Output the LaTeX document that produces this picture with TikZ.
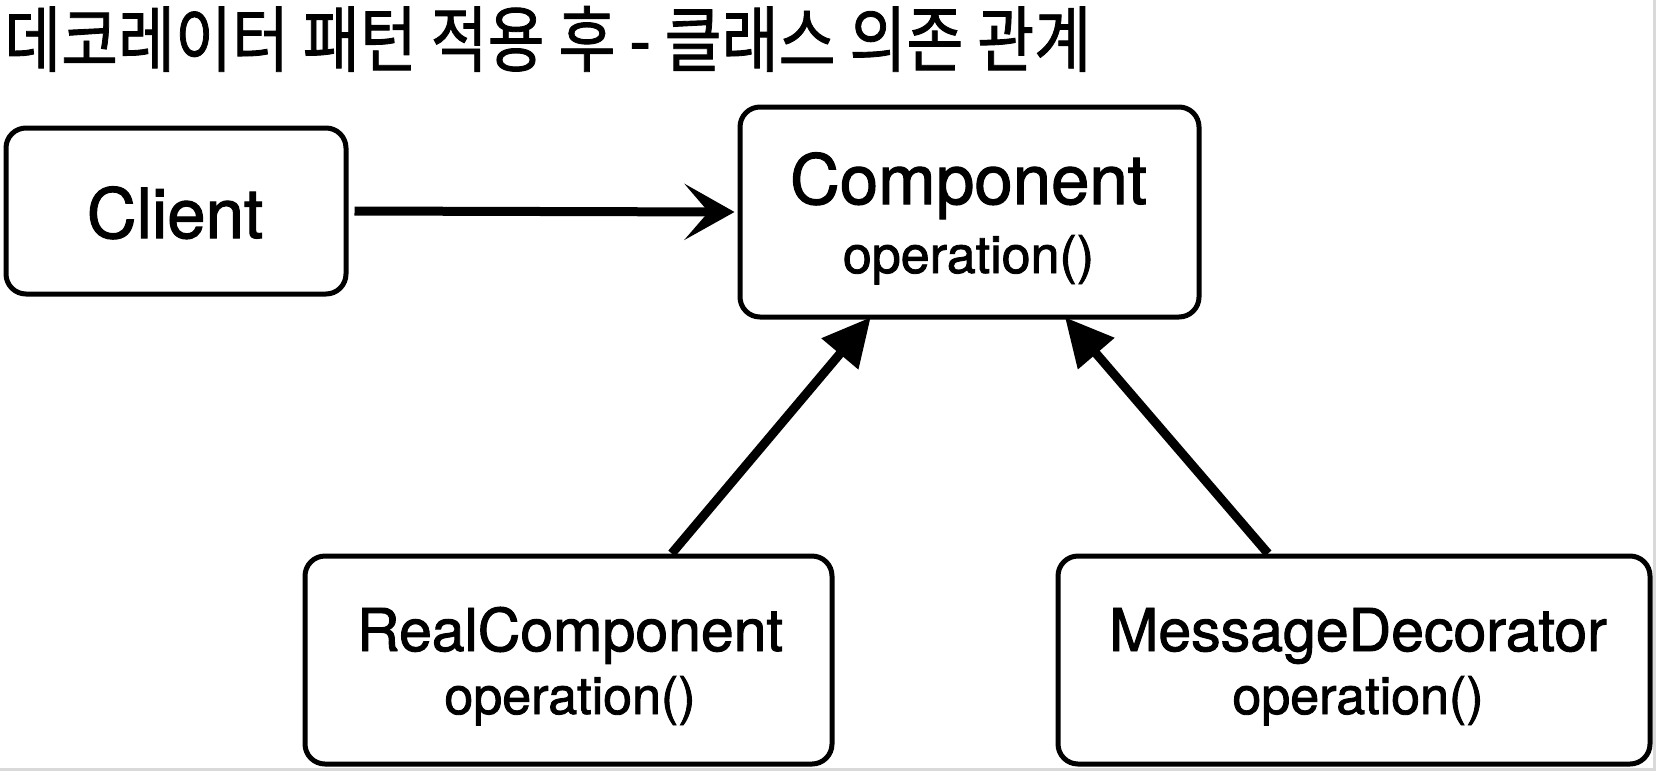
\documentclass[tikz,border=0pt]{standalone}
\usepackage{fontspec}
\setmainfont{TeX Gyre Heros}
\newfontfamily\medfont{TeX Gyre Heros}[FakeBold=1.6]
\newfontfamily\krfont{Noto Sans CJK KR}[FakeBold=1.2]
\usetikzlibrary{arrows.meta,calc}
\tikzset{
  umlbox/.style={draw=black, line width=5pt, rounded corners=20pt, inner sep=0pt, fill=white},
  bigname/.style={anchor=base, inner sep=0pt, font=\medfont\fontsize{69}{69}\selectfont},
  midname/.style={anchor=base, inner sep=0pt, font=\medfont\fontsize{59}{59}\selectfont},
  optext/.style={anchor=base, inner sep=0pt, font=\medfont\fontsize{52}{52}\selectfont},
  deparrow/.style={line width=9pt, -{Stealth[length=50pt,width=56pt,inset=24pt]}},
  inharrow/.style={line width=9pt, -{Triangle[length=48pt,width=46pt]}},
  frameline/.style={draw=black!15, line width=3pt}
}
\begin{document}
\begin{tikzpicture}[x=1pt,y=-1pt]
\useasboundingbox (0,0) rectangle (1664,780);
\fill[white] (0,0) rectangle (1664,780);
% frame lines
\coordinate (fr1) at (1654.5,0);
\coordinate (fr2) at (1654.5,769);
\coordinate (fr3) at (0,769);
\draw[frameline] (fr1) -- (fr2) -- (fr3);
% title
\node[anchor=base west, inner sep=0pt] (title) at (4,66)
  {\scalebox{0.86}[1]{\krfont\fontsize{72}{72}\selectfont 데코레이터 패턴 적용 후 - 클래스 의존 관계}};
% boxes
\node[umlbox, minimum width=340pt, minimum height=166pt] (client) at (176,211) {};
\node[umlbox, minimum width=459pt, minimum height=210pt] (comp) at (969.5,212) {};
\node[umlbox, minimum width=527pt, minimum height=208pt] (real) at (568.5,660) {};
\node[umlbox, minimum width=592pt, minimum height=208pt] (msg) at (1354,660) {};
% texts
\node[bigname] (clientT) at (175,238) {Client};
\node[bigname] (compT) at (968.5,204) {Component};
\node[optext] (compO) at (968.5,273) {operation()};
\node[midname] (realT) at (570,651) {RealComponent};
\node[optext] (realO) at (570,714) {operation()};
\node[midname] (msgT) at (1358,651) {MessageDecorator};
\node[optext] (msgO) at (1358,714) {operation()};
% connectors
\draw[deparrow, shorten <=6pt, shorten >=3pt] (client.east) -- (comp.west);
\draw[inharrow, shorten >=-3pt] ($(real.north west)!0.694!(real.north east)$) -- ($(comp.south west)!0.283!(comp.south east)$);
\draw[inharrow, shorten >=-3pt] ($(msg.north west)!0.356!(msg.north east)$) -- ($(comp.south west)!0.71!(comp.south east)$);
\end{tikzpicture}
\end{document}
